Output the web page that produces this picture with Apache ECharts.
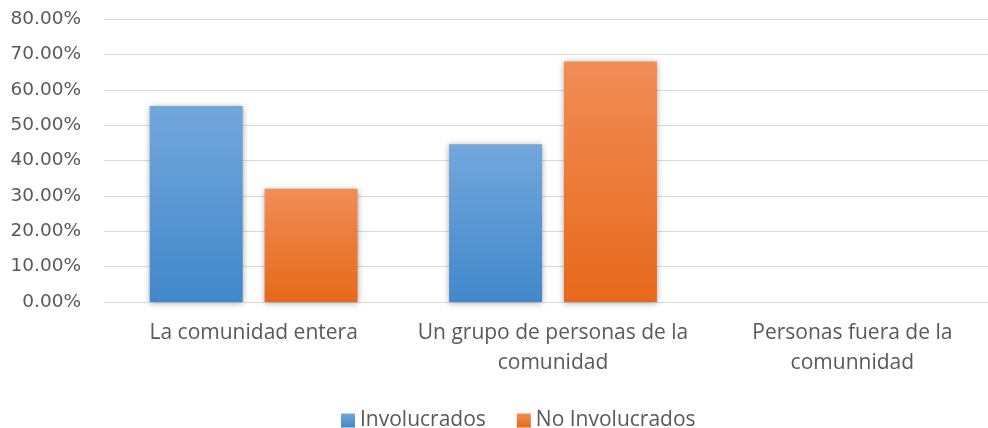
<!DOCTYPE html>
<html>
<head>
<meta charset="utf-8">
<script src="https://cdn.jsdelivr.net/npm/echarts@6/dist/echarts.min.js"></script>
<style>
  html, body { margin: 0; padding: 0; background: #fff; }
  #c1 { width: 988px; height: 428px; }
</style>
</head>
<body>
<div id="c1"></div>
<script>
// categorias del eje x
const categories = ['La comunidad entera', 'Un grupo de personas de la\ncomunidad', 'Personas fuera de la\ncomunnidad']
const seriesNames = ['Involucrados', 'No Involucrados']
const involucrados = [0.554, 0.446, 0]
const noInvolucrados = [0.32, 0.68, 0]
const yTicks = [0, 0.1, 0.2, 0.3, 0.4, 0.5, 0.6, 0.7, 0.8]

const font = 'Open Sans'
const textColor = '#595959'

const myChart = echarts.init(document.getElementById('c1'))

const grad = (top, bottom) => new echarts.graphic.LinearGradient(0, 0, 0, 1, [
  { offset: 0, color: top },
  { offset: 1, color: bottom }
])

const barShadow = {
  shadowBlur: 6,
  shadowColor: 'rgba(0, 0, 0, 0.35)',
  shadowOffsetX: 0,
  shadowOffsetY: 1
}

var option = {
  animation: false,
  grid: {
    left: 104,
    top: 19,
    width: 898,
    height: 283,
    outerBoundsMode: 'none'
  },
  legend: {
    left: 336,
    top: 405,
    icon: 'rect',
    itemWidth: 14,
    itemHeight: 14,
    itemGap: 31,
    textStyle: { fontFamily: font, fontSize: 21, color: textColor },
    data: seriesNames
  },
  xAxis: {
    type: 'category',
    data: categories,
    axisLine: { show: true, lineStyle: { color: '#d9d9d9', width: 1 } },
    axisTick: { show: false },
    axisLabel: {
      interval: 0,
      margin: 16,
      fontFamily: font,
      fontSize: 21,
      lineHeight: 30,
      color: textColor
    }
  },
  yAxis: {
    type: 'value',
    min: yTicks[0],
    max: yTicks[yTicks.length - 1],
    interval: 0.1,
    axisLine: { show: false },
    axisTick: { show: false },
    splitLine: { lineStyle: { color: '#d9d9d9', width: 1 } },
    axisLabel: {
      margin: 23,
      fontFamily: 'DejaVu Sans',
      fontSize: 18.5,
      color: textColor,
      formatter: v => (v * 100).toFixed(2) + '%'
    }
  },
  series: [
    {
      name: seriesNames[0],
      type: 'bar',
      data: involucrados,
      barWidth: 93,
      barGap: '23.5%',
      itemStyle: Object.assign({ color: grad('#73a7dc', '#4188ca') }, barShadow)
    },
    {
      name: seriesNames[1],
      type: 'bar',
      data: noInvolucrados,
      barWidth: 93,
      barGap: '23.5%',
      itemStyle: Object.assign({ color: grad('#f18d56', '#e6691b') }, barShadow)
    }
  ]
}
option && myChart.setOption(option)
</script>
</body>
</html>
